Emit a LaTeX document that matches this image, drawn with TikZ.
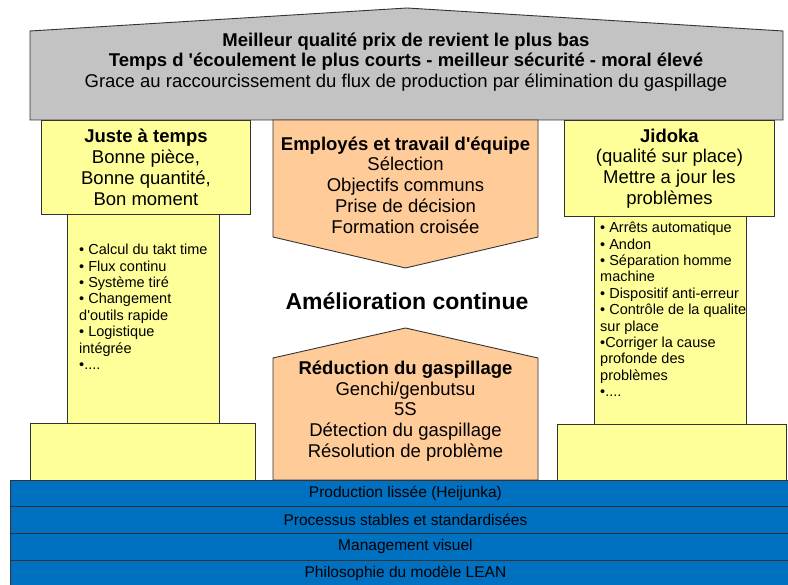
\documentclass[tikz,border=0pt]{standalone}
\usepackage{fontspec}
\setmainfont{Liberation Sans}
\usetikzlibrary{positioning}
\definecolor{toit}{RGB}{195,195,195}
\definecolor{jaune}{RGB}{255,255,153}
\definecolor{saumon}{RGB}{255,204,153}
\definecolor{bleu}{RGB}{0,112,192}
\newcommand{\apos}{\textquotesingle}

\begin{document}
\begin{tikzpicture}[x=1pt,y=-1pt,
		bord/.style={draw=black!80,line width=0.9pt},
		jaunebox/.style={bord,fill=jaune,inner sep=0pt,anchor=north west,align=center,
			font=\fontsize{18.5}{20.8}\selectfont},
		liste/.style={anchor=north west,align=left,inner sep=0pt,
			font=\fontsize{14.5}{16.4}\selectfont},
		texte/.style={align=center,inner sep=0pt,font=\fontsize{18.5}{20.8}\selectfont},
		barre/.style={bord,fill=bleu,minimum width=790pt,minimum height=26.5pt,
			anchor=north west,inner sep=0pt,font=\fontsize{15.5}{17}\selectfont}]
		\useasboundingbox (0,0) rectangle (788,585);
		\draw[bord,fill=toit] (30,120) -- (30,31) -- (407,8) -- (783,31) -- (783,120) -- cycle;
		\node[texte] (toitxt) at (406,62)
		{\textbf{Meilleur qualité prix de revient le plus bas}\\
			\textbf{Temps d \apos écoulement le plus courts - meilleur sécurité - moral élevé}\\
			Grace au raccourcissement du flux de production par élimination du gaspillage};
		\node[jaunebox,minimum width=209pt,minimum height=94pt] (chapg) at (41,120)
		{\textbf{Juste à temps}\\Bonne pièce,\\Bonne quantité,\\Bon moment};
		\node[jaunebox,minimum width=152pt,minimum height=209pt] (futg) at (67,214) {};
		\node[liste] (listeg) at (79,244)
		{• Calcul du takt time\\• Flux continu\\• Système tiré\\• Changement\\d\apos outils rapide\\
			• Logistique\\intégrée\\•....};
		\node[jaunebox,minimum width=225pt,minimum height=57pt] (baseg) at (30,423) {};
		\node[jaunebox,minimum width=210pt,minimum height=96pt] (chapd) at (564,120)
		{\textbf{Jidoka}\\(qualité sur place)\\Mettre a jour les\\problèmes};
		\node[jaunebox,minimum width=152pt,minimum height=208pt] (futd) at (594,216) {};
		\node[liste] (listed) at (600,222)
		{• Arrêts automatique\\• Andon\\• Séparation homme\\machine\\• Dispositif anti-erreur\\
			• Contrôle de la qualite\\sur place\\•Corriger la cause\\profonde des\\problèmes\\•....};
		\node[jaunebox,minimum width=229pt,minimum height=56pt] (based) at (557,424) {};
		\draw[bord,fill=saumon] (273,120) -- (538,120) -- (538,237) -- (405.5,268) -- (273,237) -- cycle;
		\node[texte] (equipe) at (405.5,185)
		{\textbf{Employés et travail d\apos équipe}\\Sélection\\Objectifs communs\\Prise de décision\\Formation croisée};
		\node[texte,font=\bfseries\fontsize{23}{26}\selectfont] (amelio) at (407,301) {Amélioration continue};
		\draw[bord,fill=saumon] (273,480) -- (273,358) -- (405.5,328) -- (538,358) -- (538,480) -- cycle;
		\node[texte] (gaspi) at (405.5,411)
		{\textbf{Réduction du gaspillage}\\Genchi/genbutsu\\5S\\Détection du gaspillage\\Résolution de problème};
		\foreach \y/\nom/\t in {480/heij/Production lissée (Heijunka),
			506.5/proc/Processus stables et standardisées,
			533/visu/Management visuel,
			559.5/lean/Philosophie du modèle LEAN}
		\node[barre] (\nom) at (10,\y) {\t};
	\end{tikzpicture}
\end{document}
